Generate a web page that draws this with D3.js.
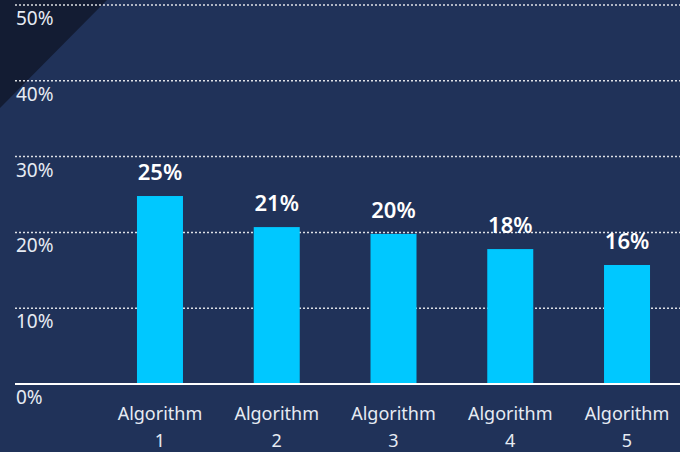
<!DOCTYPE html>
<html>
<head>
<meta charset="utf-8">
<script src="https://cdn.jsdelivr.net/npm/d3@7"></script>
<style>
  html, body { margin: 0; padding: 0; background: #203259; }
  svg { display: block; font-family: "Noto Sans", sans-serif; }
</style>
</head>
<body>
<div id="chart"></div>
<script>
const categories = ["Algorithm 1", "Algorithm 2", "Algorithm 3", "Algorithm 4", "Algorithm 5"];
const values = [24.8, 20.7, 19.8, 17.8, 15.7];
const yTicks = [0, 10, 20, 30, 40, 50];

const w = 680, h = 452;
const svg = d3.select("#chart").append("svg")
  .attr("width", w)
  .attr("height", h);

// background + dark corner
svg.append("rect").attr("width", w).attr("height", h).attr("fill", "#203259");
svg.append("path").attr("d", "M0,0 L107,0 L0,108 Z").attr("fill", "#131c33");

const yScale = d3.scaleLinear().domain([0, 50]).range([384, 5]);
const xScale = d3.scaleBand()
  .domain(categories)
  .range([101.6, 685.4])
  .paddingInner(0.606)
  .paddingOuter(0.303);

// gridlines
svg.append("g").selectAll("line")
  .data(yTicks.filter(d => d > 0))
  .enter().append("line")
  .attr("x1", 15).attr("x2", w)
  .attr("y1", d => yScale(d)).attr("y2", d => yScale(d))
  .attr("stroke", "#ffffff")
  .attr("stroke-width", 1.5)
  .attr("stroke-dasharray", "2,2")
  .attr("opacity", 0.85);

// bars
svg.append("g").selectAll("rect")
  .data(values)
  .enter().append("rect")
  .attr("x", (d, i) => xScale(categories[i]))
  .attr("y", d => yScale(d))
  .attr("width", xScale.bandwidth())
  .attr("height", d => yScale(0) - yScale(d))
  .attr("fill", "#00c8ff");

// baseline
svg.append("line")
  .attr("x1", 15).attr("x2", w)
  .attr("y1", yScale(0)).attr("y2", yScale(0))
  .attr("stroke", "#ffffff")
  .attr("stroke-width", 2);

// y tick labels
svg.append("g").selectAll("text")
  .data(yTicks)
  .enter().append("text")
  .attr("x", 16)
  .attr("y", d => yScale(d) + 20)
  .attr("fill", "#e6ebf3")
  .attr("font-size", 19)
  .text(d => d + "%");

// value labels
svg.append("g").selectAll("text")
  .data(values)
  .enter().append("text")
  .attr("x", (d, i) => xScale(categories[i]) + xScale.bandwidth() / 2)
  .attr("y", d => yScale(d) - 16)
  .attr("text-anchor", "middle")
  .attr("fill", "#ffffff")
  .attr("font-size", 22)
  .attr("font-weight", 600)
  .text(d => Math.round(d) + "%");

// category labels (two lines)
const cat = svg.append("g").selectAll("text")
  .data(categories)
  .enter().append("text")
  .attr("x", d => xScale(d) + xScale.bandwidth() / 2)
  .attr("y", 420)
  .attr("text-anchor", "middle")
  .attr("fill", "#e6ebf3")
  .attr("font-size", 18);
cat.each(function(d) {
  const parts = d.split(" ");
  const t = d3.select(this);
  parts.forEach((p, j) => {
    t.append("tspan")
      .attr("x", t.attr("x"))
      .attr("dy", j === 0 ? 0 : 27)
      .text(p);
  });
});
</script>
</body>
</html>
